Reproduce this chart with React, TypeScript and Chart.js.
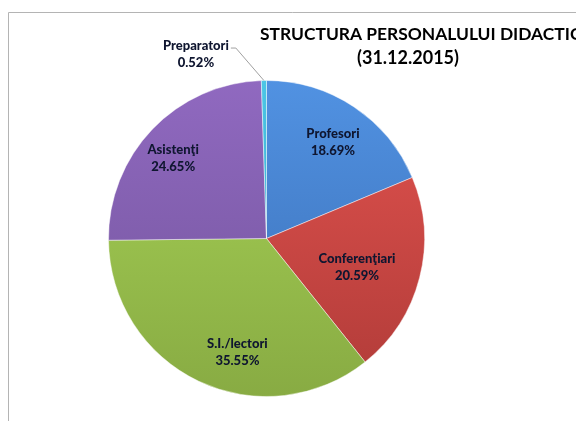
import React, { useEffect, useRef } from 'react';
import { Chart, registerables } from 'chart.js';

Chart.register(...registerables);

const categories = ['Profesori', 'Conferenţiari', 'S.I./lectori', 'Asistenţi', 'Preparatori'];
const percentages = [18.69, 20.59, 35.55, 24.65, 0.52];
const percentLabels = ['18.69%', '20.59%', '35.55%', '24.65%', '0.52%'];
const titleLines = ['STRUCTURA PERSONALULUI DIDACTIC', '(31.12.2015)'];

const sliceColors: [string, string][] = [
  ['#5192e2', '#3a6db4'],
  ['#e2534f', '#b03b38'],
  ['#a8d356', '#88ab43'],
  ['#9069c0', '#72549b'],
  ['#4cc6e6', '#2ea0c0'],
];
// label placement: radius fraction and angular shift (deg) from slice middle
const labelRadius = [0.74, 0.6, 0.74, 0.78, 1.25];
const labelShift = [1, 3, -11, -3, -20];

const FONT = 'Lato, "Open Sans", "DejaVu Sans", sans-serif';

const framePlugin = {
  id: 'frame',
  beforeDraw(chart: any) {
    const { ctx, width, height } = chart;
    ctx.save();
    ctx.fillStyle = '#ffffff';
    ctx.fillRect(0, 0, width, height);
    ctx.strokeStyle = '#b4b4b4';
    ctx.lineWidth = 1;
    ctx.beginPath();
    ctx.moveTo(8.5, height);
    ctx.lineTo(8.5, 12.5);
    ctx.lineTo(width, 12.5);
    ctx.stroke();
    ctx.restore();
  },
};

const titlePlugin = {
  id: 'customTitle',
  afterDraw(chart: any) {
    const { ctx } = chart;
    ctx.save();
    ctx.fillStyle = '#000000';
    ctx.textBaseline = 'middle';
    ctx.font = `bold 17.4px ${FONT}`;
    ctx.textAlign = 'left';
    ctx.fillText(titleLines[0], 260, 34);
    ctx.font = `bold 18px ${FONT}`;
    ctx.textAlign = 'center';
    ctx.fillText(titleLines[1], 408, 58);
    ctx.restore();
  },
};

const labelPlugin = {
  id: 'sliceLabels',
  afterDatasetsDraw(chart: any) {
    const { ctx } = chart;
    const meta = chart.getDatasetMeta(0);
    ctx.save();
    ctx.font = `900 13px ${FONT}`;
    ctx.fillStyle = '#0f1630';
    ctx.textAlign = 'center';
    ctx.textBaseline = 'middle';
    meta.data.forEach((arc: any, i: number) => {
      const p = arc.getProps(['x', 'y', 'startAngle', 'endAngle', 'outerRadius'], true);
      const mid = (p.startAngle + p.endAngle) / 2;
      const a = mid + (labelShift[i] * Math.PI) / 180;
      const r = labelRadius[i] * p.outerRadius;
      const lx = p.x + Math.cos(a) * r;
      const ly = p.y + Math.sin(a) * r;
      ctx.fillText(categories[i], lx, ly - 8);
      ctx.fillText(percentLabels[i], lx, ly + 9);
      if (labelRadius[i] > 1) {
        const tw = ctx.measureText(categories[i]).width;
        const sx = lx + tw / 2 + 2;
        const sy = ly - 6;
        const ex = p.x + Math.cos(mid) * p.outerRadius;
        const ey = p.y + Math.sin(mid) * p.outerRadius;
        ctx.strokeStyle = '#a0a0a0';
        ctx.lineWidth = 1;
        ctx.beginPath();
        ctx.moveTo(sx, sy);
        ctx.lineTo(sx + 5, sy);
        ctx.lineTo(ex, ey);
        ctx.stroke();
      }
    });
    ctx.restore();
  },
};

export default function App() {
  const ref = useRef<HTMLCanvasElement | null>(null);
  useEffect(() => {
    if (!ref.current) return;
    const chart = new Chart(ref.current, {
      type: 'pie',
      data: {
        labels: categories,
        datasets: [
          {
            data: percentages,
            backgroundColor: (context: any) => {
              const c = sliceColors[context.dataIndex % sliceColors.length];
              const area = context.chart.chartArea;
              if (!area) return c[0];
              const g = context.chart.ctx.createLinearGradient(0, area.top, 0, area.bottom);
              g.addColorStop(0, c[0]);
              g.addColorStop(1, c[1]);
              return g;
            },
            borderColor: 'rgba(255,255,255,0.45)',
            borderWidth: 1,
          },
        ],
      },
      options: {
        responsive: false,
        animation: false,
        layout: { padding: { left: 108, right: 151, top: 80, bottom: 24 } },
        plugins: {
          legend: { display: false },
          tooltip: { enabled: false },
          title: { display: false },
        },
      },
      plugins: [framePlugin, titlePlugin, labelPlugin],
    });
    return () => chart.destroy();
  }, []);
  return (
    <div style={{ position: 'absolute', left: 0, top: 0, width: 576, height: 421 }}>
      <canvas ref={ref} width={576} height={421} style={{ display: 'block' }} />
    </div>
  );
}
